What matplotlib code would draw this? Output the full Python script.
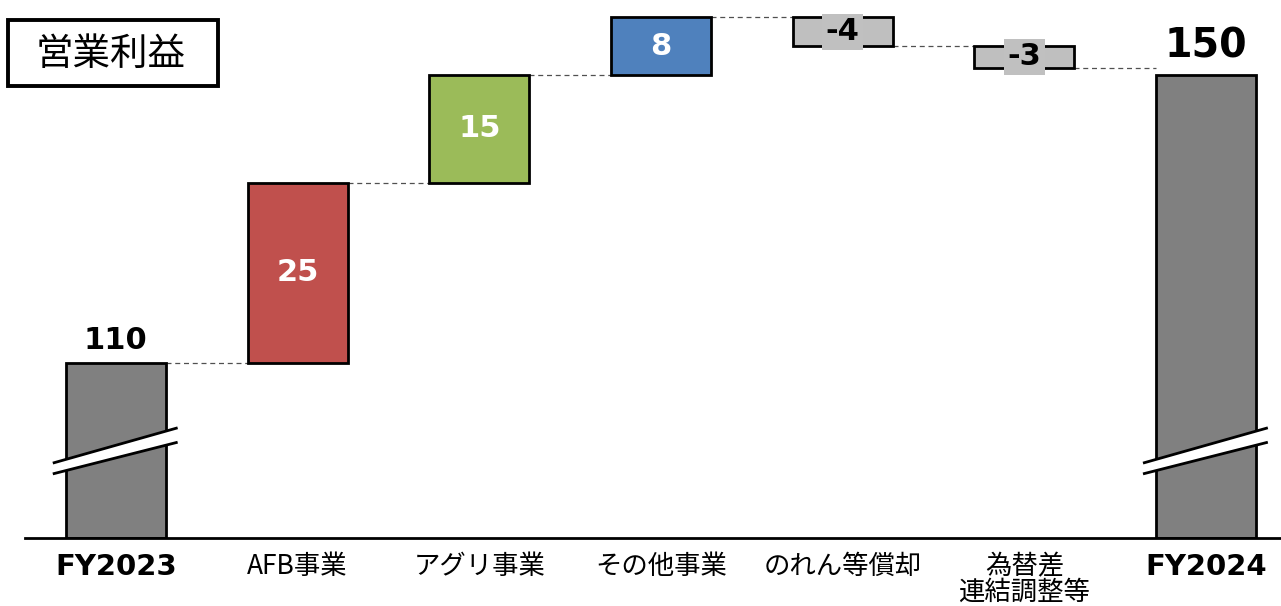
import matplotlib
matplotlib.use("Agg")
import matplotlib.pyplot as plt
from matplotlib.patches import Polygon, Rectangle

# Operating profit bridge FY2023 -> FY2024
categories = ["FY2023", "AFB事業", "アグリ事業", "その他事業", "のれん等償却", "為替差\n連結調整等", "FY2024"]
start_value = 110
changes = [25, 15, 8, -4, -3]
end_value = 150

total_color = "#808080"
change_colors = ["#C0504D", "#9BBB59", "#4F81BD", "#BFBFBF", "#BFBFBF"]

W, H, DPI = 1281, 606, 100
fig = plt.figure(figsize=(W / DPI, H / DPI), dpi=DPI)
ax = fig.add_axes([25 / W, (H - 538) / H, (W - 25) / W, 538 / H])

y_min, y_max = 85.7, 160.4
ax.set_xlim(-0.5, -0.5 + (W - 25) / 181.7)
ax.set_ylim(y_min, y_max)

bar_w = 0.55
edge = dict(edgecolor="black", linewidth=2)
num_font = dict(family="DejaVu Sans", fontweight="bold")

# totals
ax.bar(0, start_value - y_min, bottom=y_min, width=bar_w, color=total_color, zorder=2, **edge)
ax.bar(6, end_value - y_min, bottom=y_min, width=bar_w, color=total_color, zorder=2, **edge)
ax.text(0, start_value + 1.1, f"{start_value}", ha="center", va="bottom", fontsize=22, color="black", **num_font)
ax.text(6, end_value + 1.1, f"{end_value}", ha="center", va="bottom", fontsize=28.5, color="black", **num_font)

# step bars
level = start_value
levels = [level]
for i, (d, c) in enumerate(zip(changes, change_colors), start=1):
    bottom = level if d >= 0 else level + d
    ax.bar(i, abs(d), bottom=bottom, width=bar_w, color=c, zorder=2, **edge)
    mid = bottom + abs(d) / 2
    if d >= 0:
        ax.text(i, mid, f"{d}", ha="center", va="center", fontsize=22, color="white", zorder=4, **num_font)
    else:
        ax.text(i, mid, f"{d}", ha="center", va="center", fontsize=22, color="black", zorder=4,
                bbox=dict(boxstyle="square,pad=0.12", facecolor="#C0C0C0", edgecolor="none"), **num_font)
    level += d
    levels.append(level)

# dashed connectors between neighbouring bars
for i in range(len(categories) - 1):
    y = levels[min(i, len(levels) - 1)]
    ax.plot([i + bar_w / 2, i + 1 - bar_w / 2], [y, y], color="#505050", lw=0.9,
            linestyle=(0, (4, 3)), zorder=1)

# axis break marks across total bars
for cx in (0, 6):
    xl, xr = cx - 0.347, cx + 0.34
    up_l, up_r, lo_l, lo_r = 96.1, 101.0, 94.6, 99.0
    ax.add_patch(Polygon([[xl, up_l], [xr, up_r], [xr, lo_r], [xl, lo_l]], closed=True,
                         facecolor="white", edgecolor="none", zorder=3))
    ax.plot([xl, xr], [up_l, up_r], color="black", lw=2, zorder=3, solid_capstyle="butt")
    ax.plot([xl, xr], [lo_l, lo_r], color="black", lw=2, zorder=3, solid_capstyle="butt")

# axes styling
for s in ("top", "right", "left"):
    ax.spines[s].set_visible(False)
ax.spines["bottom"].set_linewidth(2)
ax.spines["bottom"].set_color("black")
ax.set_yticks([])
ax.set_xticks(range(len(categories)))
ax.set_xticklabels(categories)
ax.tick_params(axis="x", length=0, pad=11)
for lbl in ax.get_xticklabels():
    if lbl.get_text().startswith("FY"):
        lbl.set_fontfamily("DejaVu Sans")
        lbl.set_fontweight("bold")
        lbl.set_fontsize(21)
    else:
        lbl.set_fontfamily(["Noto Sans CJK JP", "DejaVu Sans"])
        lbl.set_fontsize(19)
        lbl.set_linespacing(0.92)

# boxed heading
fig.add_artist(Rectangle((8 / W, 1 - 86 / H), 210 / W, 66 / H, transform=fig.transFigure,
                         facecolor="white", edgecolor="black", linewidth=2.8))
fig.text(111 / W, 1 - 54 / H, "営業利益", ha="center", va="center", fontsize=27,
         family=["Noto Sans CJK JP", "DejaVu Sans"])

fig.savefig("out.png", dpi=DPI)
